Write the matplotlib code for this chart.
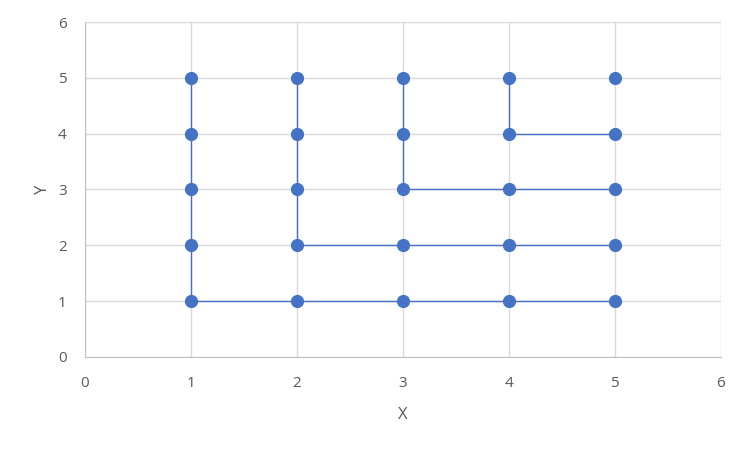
import matplotlib.pyplot as plt

# Each path is one series (an "L" shape), plus a single point
paths = [
    ([1, 1, 1, 1, 1, 2, 3, 4, 5], [5, 4, 3, 2, 1, 1, 1, 1, 1]),
    ([2, 2, 2, 2, 3, 4, 5], [5, 4, 3, 2, 2, 2, 2]),
    ([3, 3, 3, 4, 5], [5, 4, 3, 3, 3]),
    ([4, 4, 5], [5, 4, 4]),
    ([5], [5]),
]
x_ticks = [0, 1, 2, 3, 4, 5, 6]
y_ticks = [0, 1, 2, 3, 4, 5, 6]

blue = '#4472C4'
grey_text = '#595959'

fig = plt.figure(figsize=(7.5, 4.5), dpi=100)
ax = fig.add_axes([0.113, 0.207, 0.848, 0.744])

for xs, ys in paths:
    ax.plot(xs, ys, color=blue, linewidth=1.0, marker='o', markersize=8.5,
            markerfacecolor=blue, markeredgecolor=blue, zorder=3)

ax.set_xlim(0, 6)
ax.set_ylim(0, 6)
ax.set_xticks(x_ticks)
ax.set_yticks(y_ticks)
ax.grid(True, color='#D9D9D9', linewidth=1.0, zorder=0)
ax.set_axisbelow(True)

for side in ['top', 'right']:
    ax.spines[side].set_visible(False)
ax.spines['left'].set_color('#BFBFBF')
ax.spines['bottom'].set_color('#BFBFBF')

ax.tick_params(length=0, labelsize=11, labelcolor=grey_text)
ax.tick_params(axis='y', pad=13)
ax.tick_params(axis='x', pad=14)
for lab in ax.get_xticklabels() + ax.get_yticklabels():
    lab.set_family('Open Sans')

ax.set_xlabel('X', fontsize=12, color=grey_text, family='Open Sans', labelpad=11)
ax.set_ylabel('Y', fontsize=12, color=grey_text, family='Open Sans', labelpad=5)

fig.savefig('out.png', dpi=100)
